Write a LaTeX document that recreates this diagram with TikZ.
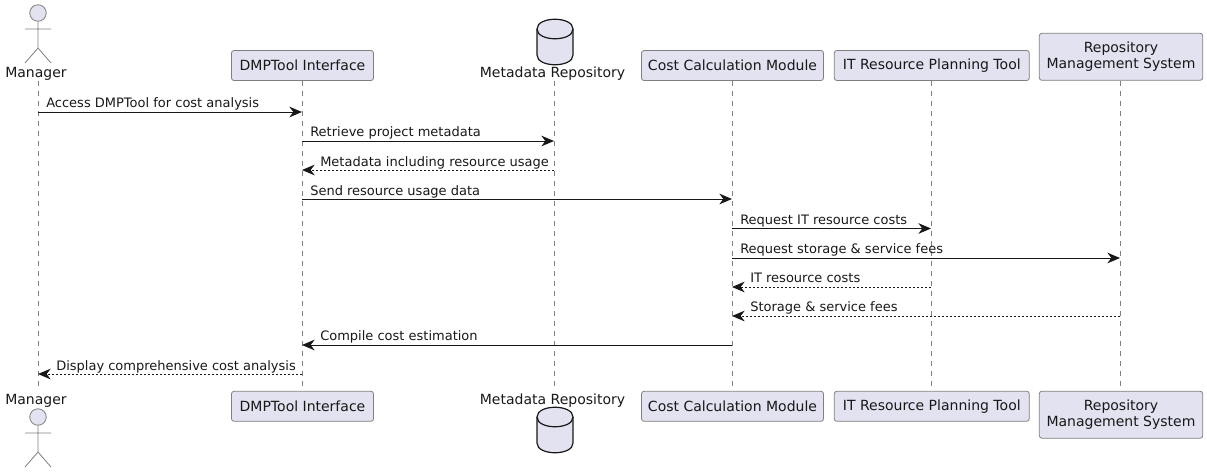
\documentclass[tikz,border=0pt]{standalone}
\usepackage{fontspec}
\setmainfont{DejaVu Sans}
\usetikzlibrary{arrows.meta,shapes.geometric}
\definecolor{pfill}{HTML}{E2E2F0}
\definecolor{pline}{HTML}{7F7F7F}
\definecolor{ink}{HTML}{181818}
\tikzset{
  x=0.75pt,y=-0.75pt,
  pbox/.style={draw=pline,fill=pfill,rounded corners=1.9pt,line width=0.6pt,inner sep=0pt,align=center,text=ink,font=\fontsize{10.5pt}{12.4pt}\selectfont,minimum height=22.5pt},
  plabel/.style={inner sep=0pt,text=ink,font=\fontsize{10.5pt}{12.4pt}\selectfont},
  life/.style={draw=pline,line width=0.55pt,dash pattern=on 3.75pt off 3.75pt},
  msg/.style={draw=ink,line width=0.75pt,-{Stealth[length=9.5pt,width=8pt,inset=3pt]}},
  ret/.style={msg,dash pattern=on 1.5pt off 1.5pt},
  mlabel/.style={inner sep=0pt,anchor=base west,text=ink,font=\fontsize{9.75pt}{11pt}\selectfont},
  actorline/.style={draw=pline,line width=0.6pt},
}
\newcommand{\stick}[2]{%
  \begin{scope}[shift={(#1,#2)}]
    \draw[actorline,fill=pfill] (0,13) circle (8.25);
    \draw[actorline] (0,21.5) -- (0,48) (-13,29) -- (13,29) (-13,63) -- (0,48) -- (13,63);
  \end{scope}}
\newcommand{\dbicon}[2]{%
  \begin{scope}[shift={(#1,#2)}]
    \draw[draw=ink,fill=pfill,line width=0.9pt] (-18,0) .. controls (-18,-13) and (18,-13) .. (18,0) -- (18,26) .. controls (18,39) and (-18,39) .. (-18,26) -- cycle;
    \draw[draw=ink,line width=0.9pt] (-18,0) .. controls (-18,13) and (18,13) .. (18,0);
  \end{scope}}
\begin{document}
\begin{tikzpicture}
\useasboundingbox (0,0) rectangle (1207,472);
% lifeline ends
\coordinate (mant) at (38,81); \coordinate (manb) at (38,391);
\coordinate (dmpt) at (302,81); \coordinate (dmpb) at (302,391);
\coordinate (mett) at (554,81); \coordinate (metb) at (554,391);
\coordinate (cost) at (732,81); \coordinate (cosb) at (732,391);
\coordinate (itpt) at (931,81); \coordinate (itpb) at (931,391);
\coordinate (rept) at (1120,81); \coordinate (repb) at (1120,391);
\foreach \n in {man,dmp,met,cos,itp,rep}{\draw[life] (\n t) -- (\n b);}
% actor
\stick{38}{0}
\stick{38}{404}
\node[plabel] (mantxt) at (36,73.5) {Manager};
\node[plabel] (mantxb) at (36,401) {Manager};
% database
\dbicon{555}{29}
\dbicon{555}{417}
\node[plabel] (mettxt) at (552.5,73.5) {Metadata Repository};
\node[plabel] (mettxb) at (552.5,401) {Metadata Repository};
% participants
\node[pbox,minimum width=106.5pt] (dmptop) at (302.5,65.5) {DMPTool Interface};
\node[pbox,minimum width=136.5pt] (costop) at (732.5,65.5) {Cost Calculation Module};
\node[pbox,minimum width=146.25pt] (itptop) at (931.8,65.5) {IT Resource Planning Tool};
\node[pbox,minimum width=122.5pt,minimum height=35.25pt] (reptop) at (1121,56.8) {Repository\\Management System};
\node[pbox,minimum width=106.5pt] (dmpbot) at (302.5,406.3) {DMPTool Interface};
\node[pbox,minimum width=136.5pt] (cosbot) at (732.5,406.3) {Cost Calculation Module};
\node[pbox,minimum width=146.25pt] (itpbot) at (931.8,406.3) {IT Resource Planning Tool};
\node[pbox,minimum width=122.5pt,minimum height=35.25pt] (repbot) at (1121,414.7) {Repository\\Management System};
% message ends
\foreach \k/\y in {1/112,2/141,3/170,4/199,5/228.5,6/258,7/287,8/316,9/345,10/374}{
  \foreach \n/\x in {man/38,dmp/302,met/554,cos/732,itp/931,rep/1120}{
    \coordinate (\n\k) at (\x,\y);
  }
}
\draw[msg] (man1) -- (dmp1);
\draw[msg] (dmp2) -- (met2);
\draw[ret] (met3) -- (dmp3);
\draw[msg] (dmp4) -- (cos4);
\draw[msg] (cos5) -- (itp5);
\draw[msg] (cos6) -- (rep6);
\draw[ret] (itp7) -- (cos7);
\draw[ret] (rep8) -- (cos8);
\draw[msg] (cos9) -- (dmp9);
\draw[ret] (dmp10) -- (man10);
\node[mlabel] (l1) at (46,107) {Access DMPTool for cost analysis};
\node[mlabel] (l2) at (310,136) {Retrieve project metadata};
\node[mlabel] (l3) at (320,166) {Metadata including resource usage};
\node[mlabel] (l4) at (310,195) {Send resource usage data};
\node[mlabel] (l5) at (740,224) {Request IT resource costs};
\node[mlabel] (l6) at (740,253) {Request storage \& service fees};
\node[mlabel] (l7) at (750,282) {IT resource costs};
\node[mlabel] (l8) at (750,311) {Storage \& service fees};
\node[mlabel] (l9) at (320,340) {Compile cost estimation};
\node[mlabel] (l10) at (56,370) {Display comprehensive cost analysis};
\end{tikzpicture}
\end{document}
